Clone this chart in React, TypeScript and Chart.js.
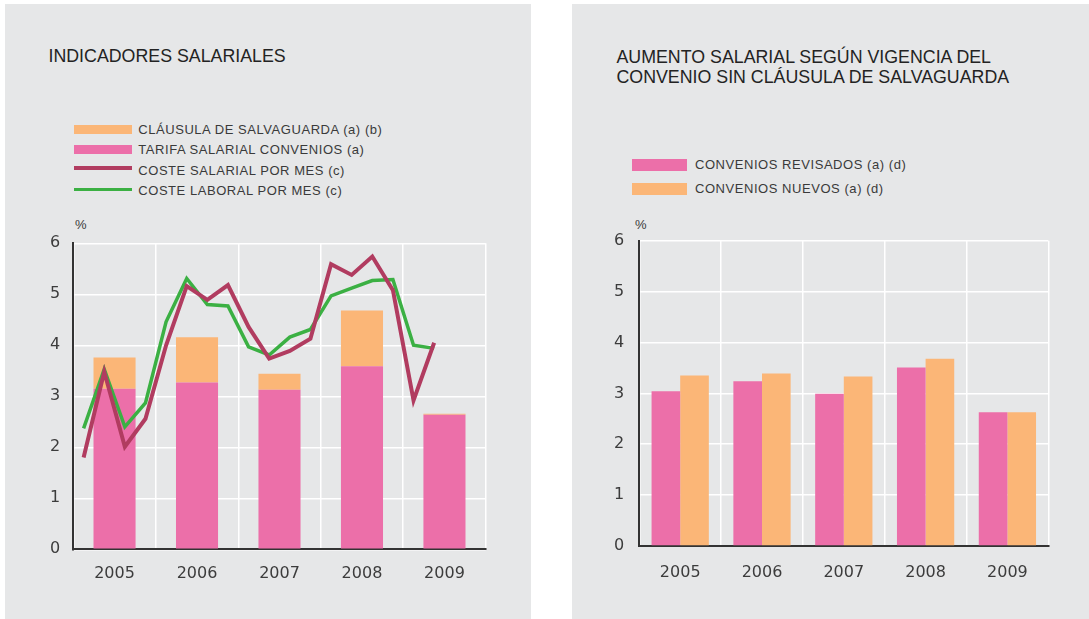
import React, { useEffect, useRef } from 'react';
import { Chart, registerables } from 'chart.js';

Chart.register(...registerables);

// ---------- DATA ----------
const years = ['2005', '2006', '2007', '2008', '2009'];
const quarters = [
  'I-05', 'II-05', 'III-05', 'IV-05',
  'I-06', 'II-06', 'III-06', 'IV-06',
  'I-07', 'II-07', 'III-07', 'IV-07',
  'I-08', 'II-08', 'III-08', 'IV-08',
  'I-09', 'II-09', 'III-09', 'IV-09',
];
const tarifaSalarial = [3.15, 3.27, 3.13, 3.59, 2.64];
const clausulaSalvaguarda = [0.61, 0.89, 0.31, 1.09, 0.02];
const costeSalarial = [1.8, 3.48, 2.01, 2.56, 4.0, 5.16, 4.89, 5.18, 4.36, 3.74, 3.89, 4.13, 5.59, 5.38, 5.74, 5.08, 2.92, 4.05, null, null];
const costeLaboral = [2.37, 3.53, 2.4, 2.87, 4.46, 5.31, 4.8, 4.77, 3.97, 3.81, 4.16, 4.31, 4.97, 5.12, 5.27, 5.29, 4.0, 3.94, null, null];
const conveniosRevisados = [3.04, 3.24, 2.99, 3.51, 2.63];
const conveniosNuevos = [3.35, 3.39, 3.33, 3.68, 2.63];
const yTicks = [0, 1, 2, 3, 4, 5, 6];

const leftTitle = 'INDICADORES SALARIALES';
const rightTitle1 = 'AUMENTO SALARIAL SEGÚN VIGENCIA DEL';
const rightTitle2 = 'CONVENIO SIN CLÁUSULA DE SALVAGUARDA';
const lblClausula = 'CLÁUSULA DE SALVAGUARDA (a) (b)';
const lblTarifa = 'TARIFA SALARIAL CONVENIOS (a)';
const lblCosteSal = 'COSTE SALARIAL POR MES (c)';
const lblCosteLab = 'COSTE LABORAL POR MES (c)';
const lblRevisados = 'CONVENIOS REVISADOS (a) (d)';
const lblNuevos = 'CONVENIOS NUEVOS (a) (d)';

// ---------- STYLE ----------
const PINK = '#ec6fa9';
const ORANGE = '#fbb677';
const MAROON = '#b13c60';
const GREEN = '#3bb043';
const PANEL = '#e6e7e8';
const AXIS = '#333333';
const TICK = '#3c3c3c';
const TICK_FONT = { family: 'DejaVu Sans', size: 16 };

function baseScales(yPad: number, yWidth: number, xPad: number, xHeight: number, stacked: boolean) {
  return {
    x: {
      stacked,
      offset: true,
      grid: { color: '#ffffff', lineWidth: 1.5, drawTicks: false, offset: true },
      border: { color: AXIS, width: 2 },
      ticks: { color: TICK, font: TICK_FONT, padding: xPad },
      afterFit: (s: any) => { s.height = xHeight; },
    },
    y: {
      stacked,
      min: 0,
      max: 6,
      afterBuildTicks: (s: any) => { s.ticks = yTicks.map((v) => ({ value: v })); },
      grid: { color: '#ffffff', lineWidth: 1.5, drawTicks: false },
      border: { color: AXIS, width: 2 },
      ticks: { color: TICK, font: TICK_FONT, padding: yPad },
      afterFit: (s: any) => { s.width = yWidth; },
    },
  };
}

function LeftChart() {
  const ref = useRef<HTMLCanvasElement>(null);
  useEffect(() => {
    const scales: any = baseScales(13, 68.3, 15, 69.7, true);
    scales.xq = { type: 'category', labels: quarters, display: false, offset: true, grid: { display: false } };
    scales.yl = { type: 'linear', display: false, min: 0, max: 6, stacked: false, grid: { display: false } };
    const chart = new Chart(ref.current as HTMLCanvasElement, {
      type: 'bar',
      data: {
        labels: years,
        datasets: [
          {
            type: 'line', label: lblCosteSal, data: costeSalarial as any, xAxisID: 'xq', yAxisID: 'yl',
            borderColor: MAROON, backgroundColor: MAROON, borderWidth: 4, pointRadius: 0, tension: 0,
            borderJoinStyle: 'miter', order: 0,
          } as any,
          {
            type: 'line', label: lblCosteLab, data: costeLaboral as any, xAxisID: 'xq', yAxisID: 'yl',
            borderColor: GREEN, backgroundColor: GREEN, borderWidth: 3.5, pointRadius: 0, tension: 0,
            borderJoinStyle: 'miter', order: 1,
          } as any,
          {
            type: 'bar', label: lblTarifa, data: tarifaSalarial, backgroundColor: PINK,
            xAxisID: 'x', yAxisID: 'y', order: 2, categoryPercentage: 0.51, barPercentage: 1, grouped: false,
          } as any,
          {
            type: 'bar', label: lblClausula, data: clausulaSalvaguarda, backgroundColor: ORANGE,
            xAxisID: 'x', yAxisID: 'y', order: 3, categoryPercentage: 0.51, barPercentage: 1, grouped: false,
          } as any,
        ],
      },
      options: {
        animation: false,
        responsive: false,
        devicePixelRatio: 1,
        layout: { padding: { left: 0, top: 38.3, right: 46.3, bottom: 0 } },
        plugins: { legend: { display: false }, tooltip: { enabled: false } },
        scales,
      } as any,
    });
    return () => chart.destroy();
  }, []);
  return <canvas ref={ref} width={527} height={414} style={{ position: 'absolute', left: 5, top: 205, width: 527, height: 414 }} />;
}

function RightChart() {
  const ref = useRef<HTMLCanvasElement>(null);
  useEffect(() => {
    const scales: any = baseScales(15, 67.3, 17.7, 73, false);
    const chart = new Chart(ref.current as HTMLCanvasElement, {
      type: 'bar',
      data: {
        labels: years,
        datasets: [
          { label: lblRevisados, data: conveniosRevisados, backgroundColor: PINK, categoryPercentage: 0.7, barPercentage: 1 },
          { label: lblNuevos, data: conveniosNuevos, backgroundColor: ORANGE, categoryPercentage: 0.7, barPercentage: 1 },
        ],
      },
      options: {
        animation: false,
        responsive: false,
        devicePixelRatio: 1,
        layout: { padding: { left: 0, top: 35.7, right: 40.7, bottom: 0 } },
        plugins: { legend: { display: false }, tooltip: { enabled: false } },
        scales,
      } as any,
    });
    return () => chart.destroy();
  }, []);
  return <canvas ref={ref} width={517} height={414} style={{ position: 'absolute', left: 572, top: 205, width: 517, height: 414 }} />;
}

const legendText: React.CSSProperties = {
  position: 'absolute',
  fontFamily: '"Liberation Sans", Arial, sans-serif',
  fontSize: 13,
  letterSpacing: '0.55px',
  color: '#3a3a3a',
  lineHeight: '16px',
  height: 16,
  whiteSpace: 'nowrap',
};

function LegendRow(props: { x: number; textX: number; cy: number; boxCy: number; w: number; h: number; color: string; label: string }) {
  const { x, textX, cy, boxCy, w, h, color, label } = props;
  return (
    <>
      <div style={{ position: 'absolute', left: x, top: boxCy - h / 2, width: w, height: h, background: color }} />
      <div style={{ ...legendText, left: textX, top: cy - 8 }}>{label}</div>
    </>
  );
}

const titleStyle: React.CSSProperties = {
  position: 'absolute',
  fontFamily: '"Liberation Sans", Arial, sans-serif',
  fontSize: 17.8,
  color: '#232323',
  whiteSpace: 'nowrap',
};

export default function App() {
  return (
    <div style={{ position: 'absolute', left: 0, top: 0, width: 1089, height: 619, background: '#ffffff', overflow: 'hidden' }}>
      <div style={{ position: 'absolute', left: 5, top: 4, width: 526, height: 615, background: PANEL }} />
      <div style={{ position: 'absolute', left: 572, top: 4, width: 517, height: 615, background: PANEL }} />

      <div style={{ ...titleStyle, left: 48.5, top: 44.8, lineHeight: '23px' }}>{leftTitle}</div>
      <div style={{ ...titleStyle, left: 616.5, top: 46.6, lineHeight: '20.5px' }}>
        {rightTitle1}
        <br />
        {rightTitle2}
      </div>

      <LegendRow x={74} textX={138.3} cy={130} boxCy={129.7} w={57.7} h={9.5} color={ORANGE} label={lblClausula} />
      <LegendRow x={74} textX={138.3} cy={150.3} boxCy={149.7} w={57.7} h={9.5} color={PINK} label={lblTarifa} />
      <LegendRow x={74} textX={138.3} cy={170.6} boxCy={168} w={57.7} h={4.2} color={MAROON} label={lblCosteSal} />
      <LegendRow x={74} textX={138.3} cy={191} boxCy={189.5} w={57.7} h={3.5} color={GREEN} label={lblCosteLab} />

      <LegendRow x={632.3} textX={695} cy={165.3} boxCy={165} w={54.4} h={11.5} color={PINK} label={lblRevisados} />
      <LegendRow x={632.3} textX={695} cy={189} boxCy={189.2} w={54.4} h={11.5} color={ORANGE} label={lblNuevos} />

      <div style={{ ...legendText, left: 75, top: 217, letterSpacing: 0 }}>%</div>
      <div style={{ ...legendText, left: 635, top: 217, letterSpacing: 0 }}>%</div>

      <LeftChart />
      <RightChart />
    </div>
  );
}
